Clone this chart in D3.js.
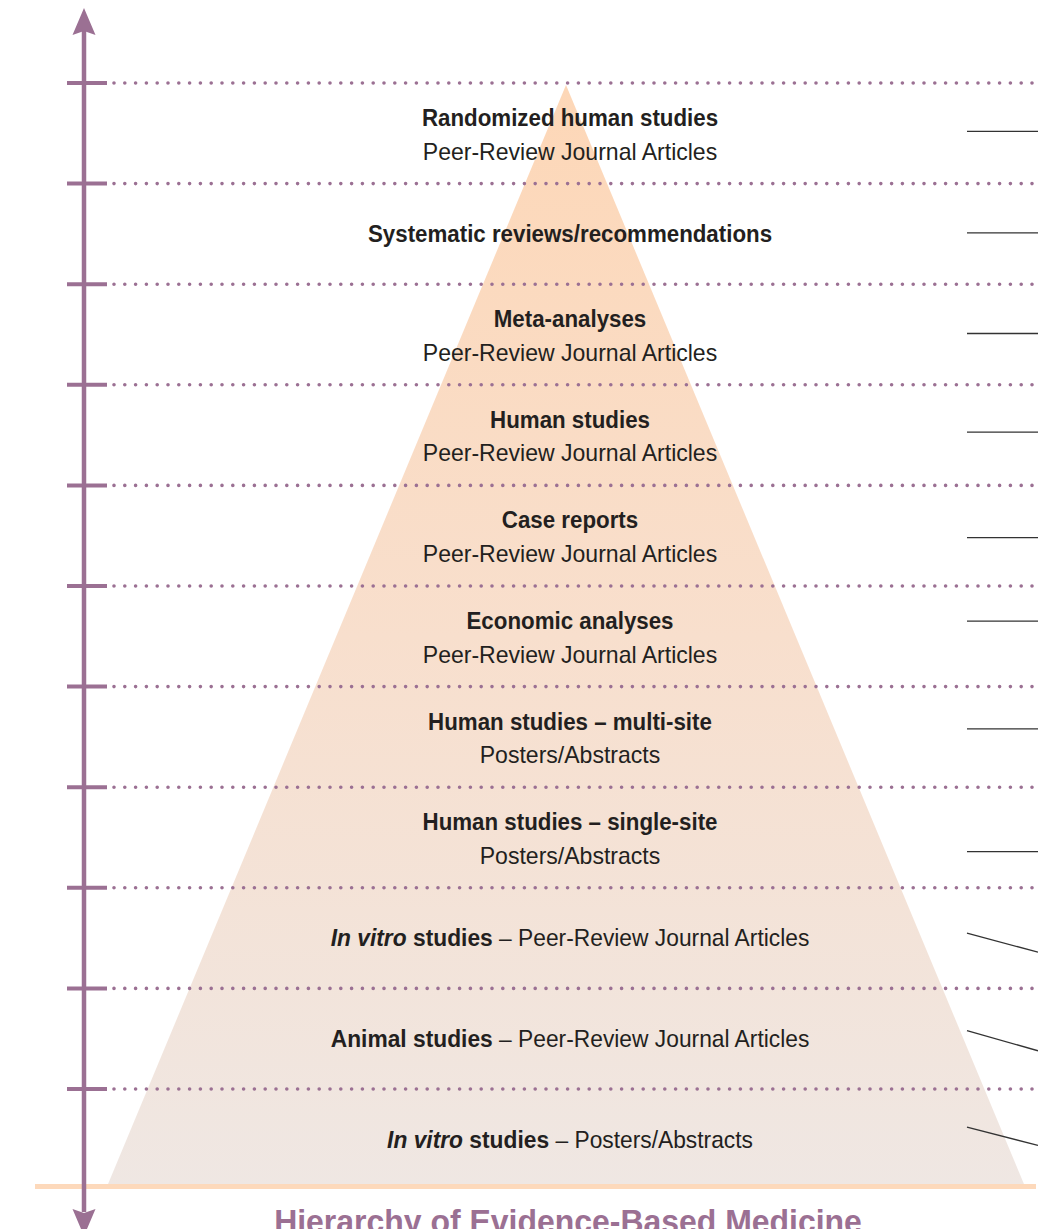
<!DOCTYPE html>
<html><head><meta charset="utf-8">
<script src="https://cdn.jsdelivr.net/npm/d3@7"></script>
<style>
html,body{margin:0;padding:0;background:#fff;}
svg{display:block;}
text{font-family:"Liberation Sans","Arial",sans-serif;fill:#231f20;}
</style></head>
<body>
<svg id="chart" width="1038" height="1229"></svg>
<script>
// ---- data ----
const levelTitles = ["Randomized human studies","Systematic reviews/recommendations","Meta-analyses","Human studies","Case reports","Economic analyses","Human studies \u2013 multi-site","Human studies \u2013 single-site","studies","Animal studies","studies"];
const levelItalic = ["","","","","","","","","In vitro","","In vitro"];
const levelSources = ["Peer-Review Journal Articles","","Peer-Review Journal Articles","Peer-Review Journal Articles","Peer-Review Journal Articles","Peer-Review Journal Articles","Posters/Abstracts","Posters/Abstracts","Peer-Review Journal Articles","Peer-Review Journal Articles","Posters/Abstracts"];
const levelInline = [false,false,false,false,false,false,false,false,true,true,true];
const leaderFrom = [0.48,0.49,0.49,0.47,0.52,0.35,0.42,0.64,0.45,0.42,0.38];
const leaderTo   = [0.48,0.49,0.49,0.47,0.52,0.35,0.42,0.64,0.64,0.62,0.56];
const chartTitle = "Hierarchy of Evidence-Based Medicine";

const svg = d3.select("#chart");
const W = 1038, H = 1229;
const nRows = levelTitles.length;
const y = d3.scaleLinear().domain([0, nRows]).range([83, 1189.6]);
const x = d3.scaleLinear().domain([-1, 1]).range([107, 1025]);
const purple = "#9b7093";
const baseY = 1186.5;

// gradient
const defs = svg.append("defs");
const grad = defs.append("linearGradient").attr("id","pg").attr("gradientUnits","userSpaceOnUse")
  .attr("x1",0).attr("y1",85).attr("x2",0).attr("y2",baseY);
grad.append("stop").attr("offset","0").attr("stop-color","#fdd7b7");
grad.append("stop").attr("offset","0.5").attr("stop-color","#f8dfcd");
grad.append("stop").attr("offset","1").attr("stop-color","#efe7e3");

// pyramid
svg.append("path")
  .attr("d", d3.line()([[x(0),85],[x(1),baseY],[x(-1),baseY]]) + "Z")
  .attr("fill","url(#pg)");

// baseline
svg.append("line").attr("x1",35).attr("x2",1036).attr("y1",baseY).attr("y2",baseY)
  .attr("stroke","#fdd9bb").attr("stroke-width",5);

// dotted gridlines
const ticks = d3.range(nRows);
svg.append("g").selectAll("line").data(ticks).join("line")
  .attr("x1",114).attr("x2",W).attr("y1",d=>y(d)).attr("y2",d=>y(d))
  .attr("stroke",purple).attr("stroke-width",3.6).attr("stroke-linecap","round")
  .attr("stroke-dasharray","0 10.8");

// axis
const axisX = 84;
svg.append("line").attr("x1",axisX).attr("x2",axisX).attr("y1",30).attr("y2",1212)
  .attr("stroke",purple).attr("stroke-width",4.5);
svg.append("path").attr("d",`M${axisX},8 L${axisX+11.5},35 L${axisX},31 L${axisX-11.5},35 Z`).attr("fill",purple);
svg.append("path").attr("d",`M${axisX},1236 L${axisX+11.5},1209 L${axisX},1213 L${axisX-11.5},1209 Z`).attr("fill",purple);
svg.append("g").selectAll("line").data(ticks).join("line")
  .attr("x1",67).attr("x2",107).attr("y1",d=>y(d)).attr("y2",d=>y(d))
  .attr("stroke",purple).attr("stroke-width",4);

// leader lines
svg.append("g").selectAll("line").data(ticks).join("line")
  .attr("x1",967).attr("x2",W)
  .attr("y1",i=>y(i+leaderFrom[i])).attr("y2",i=>y(i+leaderTo[i]))
  .attr("stroke","#333").attr("stroke-width",1.3);

// labels (horizontally condensed)
const cx = 570, fs = 24;
function label(yy, k) {
  return svg.append("g").attr("transform",`translate(${cx},${yy}) scale(${k},1)`)
    .append("text").attr("x",0).attr("y",0).attr("text-anchor","middle")
    .attr("dominant-baseline","central").attr("font-size",fs);
}
ticks.forEach(i => {
  if (levelInline[i]) {
    const t = label(y(i+0.5), 0.95);
    if (levelItalic[i]) t.append("tspan").attr("font-weight","bold").attr("font-style","italic").text(levelItalic[i] + " ");
    t.append("tspan").attr("font-weight","bold").text(levelTitles[i]);
    t.append("tspan").text(" \u2013 " + levelSources[i]);
  } else if (levelSources[i]) {
    label(y(i+0.345), 0.93).attr("font-weight","bold").text(levelTitles[i]);
    label(y(i+0.68), 0.96).text(levelSources[i]);
  } else {
    label(y(i+0.5), 0.93).attr("font-weight","bold").text(levelTitles[i]);
  }
});

// title
svg.append("g").attr("transform","translate(568,1233) scale(0.94,1)")
  .append("text").attr("x",0).attr("y",0).attr("text-anchor","middle")
  .attr("font-size",34).attr("font-weight","bold").style("fill","#9b7093").text(chartTitle);
</script>
</body></html>
